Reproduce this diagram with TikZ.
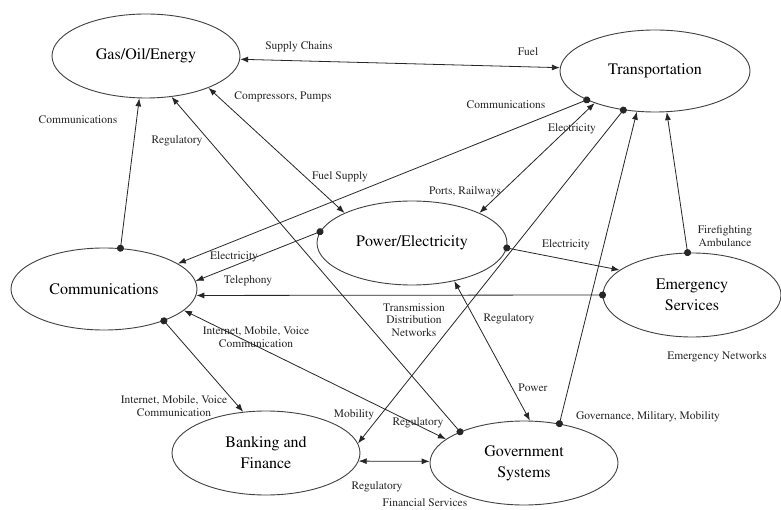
\documentclass[tikz,border=0pt]{standalone}
\usepackage[T1]{fontenc}
\usepackage{mathptmx}
\usetikzlibrary{arrows.meta,shapes.geometric}
\begin{document}
\begin{tikzpicture}[x=1pt,y=-1pt,
  ell/.style={ellipse,draw=black!75,line width=0.9pt,inner sep=0pt,minimum width=188pt,minimum height=84pt,align=center,font=\fontsize{16}{21}\selectfont},
  lbl/.style={font=\fontsize{11.5}{12.5}\selectfont,align=center,inner sep=0pt,text=black!85},
  conn/.style={draw=black!85,line width=0.8pt},
  da/.style={conn,{Latex[length=8pt,width=6pt]}-{Latex[length=8pt,width=6pt]}},
  sa/.style={conn,{Circle[length=7pt]}-{Latex[length=8pt,width=6pt]},shorten <=-3.5pt}
]
\useasboundingbox[fill=white] (0,0) rectangle (781,510);

% nodes
\node[ell] (gas) at (146,56) {Gas/Oil/Energy};
\node[ell,minimum width=190pt,minimum height=82pt] (trans) at (655,71) {Transportation};
\node[ell,minimum width=190pt] (power) at (412,243) {Power/Electricity};
\node[ell,minimum width=186pt,minimum height=82pt] (comm) at (104,289) {Communications};
\node[ell,minimum width=178pt] (emer) at (692,295) {Emergency\\Services};
\node[ell] (bank) at (266,453) {Banking and\\Finance};
\node[ell] (gov) at (524,463) {Government\\Systems};

% connectors
\draw[da] (gas.-2.4) -- (trans.178);
\draw[sa] (comm.68.7) -- (gas.261.7);
\draw[sa] (gov.154.8) -- (gas.302);
\draw[da] (gas.-27.5) -- (power.156.8);
\draw[sa] (trans.203.1) -- (comm.19.1);
\draw[sa] (power.173.2) -- (comm.5.2);
\draw[da] (trans.208.8) -- (power.24.7);
\draw[sa] (trans.231.2) -- (bank.6.5);
\draw[sa] (gov.48.6) -- (trans.246.8);
\draw[sa] (emer.96.6) -- (trans.286.5);
\draw[sa] (power.-3) -- (emer.161.6);
\draw[sa] (emer.180.6) -- (comm.-4.4);
\draw[da] (power.-42.9) -- (gov.82.4);
\draw[sa] (comm.-28.7) -- (bank.119.6);
\draw[da] (comm.-15.6) -- (gov.163.4);
\draw[da] (bank.-5.6) -- (gov.179.4);

% labels
\node[lbl] (l1) at (299,47) {Supply Chains};
\node[lbl] (l2) at (528,52) {Fuel};
\node[lbl] (l3) at (283,97) {Compressors, Pumps};
\node[lbl] (l4) at (78,120) {Communications};
\node[lbl] (l5) at (177,141) {Regulatory};
\node[lbl] (l6) at (340,177) {Fuel Supply};
\node[lbl] (l7) at (506,105) {Communications};
\node[lbl] (l8) at (572,129) {Electricity};
\node[lbl] (l9) at (465,192) {Ports, Railways};
\node[lbl] (l10) at (566,245) {Electricity};
\node[lbl] (l11) at (725,236) {Firefighting\\Ambulance};
\node[lbl] (l12) at (234,257) {Electricity};
\node[lbl] (l13) at (248,281) {Telephony};
\node[lbl] (l14) at (414,320) {Transmission\\Distribution\\Networks};
\node[lbl] (l15) at (509,319) {Regulatory};
\node[lbl] (l16) at (717,357) {Emergency Networks};
\node[lbl] (l17) at (533,388) {Power};
\node[lbl] (l18) at (648,417) {Governance, Military, Mobility};
\node[lbl] (l19) at (418,423) {Regulatory};
\node[lbl] (l20) at (354,415) {Mobility};
\node[lbl] (l21) at (256,337) {Internet, Mobile, Voice\\Communication};
\node[lbl] (l22) at (174,406) {Internet, Mobile, Voice\\Communication};
\node[lbl] (l23) at (377,487) {Regulatory};
\node[lbl] (l24) at (425,503) {Financial Services};
\end{tikzpicture}
\end{document}
